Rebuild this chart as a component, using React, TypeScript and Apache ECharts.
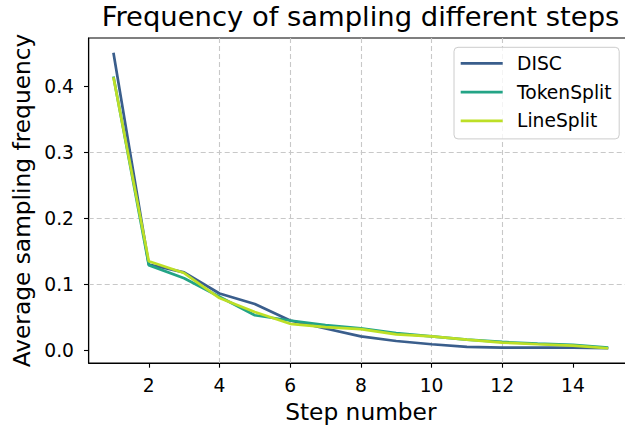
import React, { useEffect, useRef } from "react";
import * as echarts from "echarts";

const steps = [1, 2, 3, 4, 5, 6, 7, 8, 9, 10, 11, 12, 13, 14, 15];
const disc = [0.451, 0.13, 0.118, 0.086, 0.07, 0.045, 0.033, 0.021, 0.014, 0.009, 0.005, 0.004, 0.004, 0.004, 0.003];
const tokenSplit = [0.415, 0.129, 0.109, 0.081, 0.053, 0.045, 0.038, 0.033, 0.026, 0.021, 0.016, 0.0125, 0.01, 0.008, 0.004];
const lineSplit = [0.414, 0.135, 0.117, 0.079, 0.058, 0.04, 0.035, 0.032, 0.024, 0.021, 0.016, 0.0115, 0.009, 0.007, 0.003];
const seriesNames = ["DISC", "TokenSplit", "LineSplit"];
const xTicks = [2, 4, 6, 8, 10, 12, 14];
const yTicks = [0, 0.1, 0.2, 0.3, 0.4];

const colors = ["#3a5e8c", "#23a486", "#bddf26"];
const FONT = "DejaVu Sans";

export default function App() {
  const ref = useRef<HTMLDivElement>(null);
  useEffect(() => {
    if (!ref.current) return;
    const chart = echarts.init(ref.current, null, { renderer: "svg" });
    const values = [disc, tokenSplit, lineSplit];
    const gridLine = { show: true, lineStyle: { color: "#c8c8c8", width: 1.1, type: [5, 3] as any }, showMinLine: false, showMaxLine: false };
    chart.setOption({
      animation: false,
      backgroundColor: "#ffffff",
      title: {
        text: "Frequency of sampling different steps",
        left: 360.5,
        textAlign: "center",
        top: 2.8,
        padding: 0,
        textStyle: { fontFamily: FONT, fontSize: 27.4, fontWeight: "normal", color: "#000" },
      },
      grid: {
        left: 88.7,
        top: 38,
        right: -8,
        bottom: 65,
        containLabel: false,
        outerBoundsMode: "none",
        show: true,
        borderColor: "#000",
        borderWidth: 1.1,
        backgroundColor: "transparent",
      },
      legend: {
        data: seriesNames.map((n) => ({ name: n, icon: "rect" })),
        orient: "vertical",
        left: 454,
        top: 47.3,
        itemWidth: 42,
        itemHeight: 2.7,
        itemGap: 8.8,
        padding: [6, 7.6, 8, 6.7],
        backgroundColor: "rgba(255,255,255,0.8)",
        borderColor: "#cccccc",
        borderWidth: 1,
        borderRadius: 4,
        textStyle: { fontFamily: FONT, fontSize: 18.7, color: "#000", lineHeight: 20, padding: [0, 0, 0, 9.3] },
      },
      xAxis: {
        type: "value",
        min: 0.3,
        max: 15.7,
        minInterval: 2,
        maxInterval: 2,
        name: "Step number",
        nameLocation: "middle",
        nameGap: 37.3,
        nameTextStyle: { fontFamily: FONT, fontSize: 23.3, color: "#000" },
        axisLine: { show: true, onZero: false, lineStyle: { color: "#000", width: 1.1 } },
        axisTick: { show: true, length: 4.7, customValues: xTicks, lineStyle: { color: "#000", width: 1.1 } },
        axisLabel: { customValues: xTicks, margin: 12.85, fontFamily: FONT, fontSize: 18.7, color: "#000", formatter: (v: number) => String(v) },
        splitLine: gridLine,
      },
      yAxis: {
        type: "value",
        min: -0.0194,
        max: 0.4734,
        minInterval: 0.1,
        maxInterval: 0.1,
        name: "Average sampling frequency",
        nameLocation: "middle",
        nameGap: 52,
        nameRotate: 90,
        nameTextStyle: { fontFamily: FONT, fontSize: 23.3, color: "#000" },
        axisLine: { show: true, onZero: false, lineStyle: { color: "#000", width: 1.1 } },
        axisTick: { show: true, length: 4.7, customValues: yTicks, lineStyle: { color: "#000", width: 1.1 } },
        axisLabel: { customValues: yTicks, margin: 14.7, fontFamily: FONT, fontSize: 18.7, color: "#000", formatter: (v: number) => v.toFixed(1) },
        splitLine: gridLine,
      },
      series: seriesNames.map((name, i) => ({
        name,
        type: "line",
        data: steps.map((s, j) => [s, values[i][j]]),
        symbol: "none",
        showSymbol: false,
        color: colors[i],
        lineStyle: { width: 2.7, color: colors[i] },
        emphasis: { disabled: true },
      })),
    });
    return () => chart.dispose();
  }, []);
  return <div ref={ref} style={{ position: "absolute", left: 0, top: 0, width: 625, height: 428 }} />;
}
